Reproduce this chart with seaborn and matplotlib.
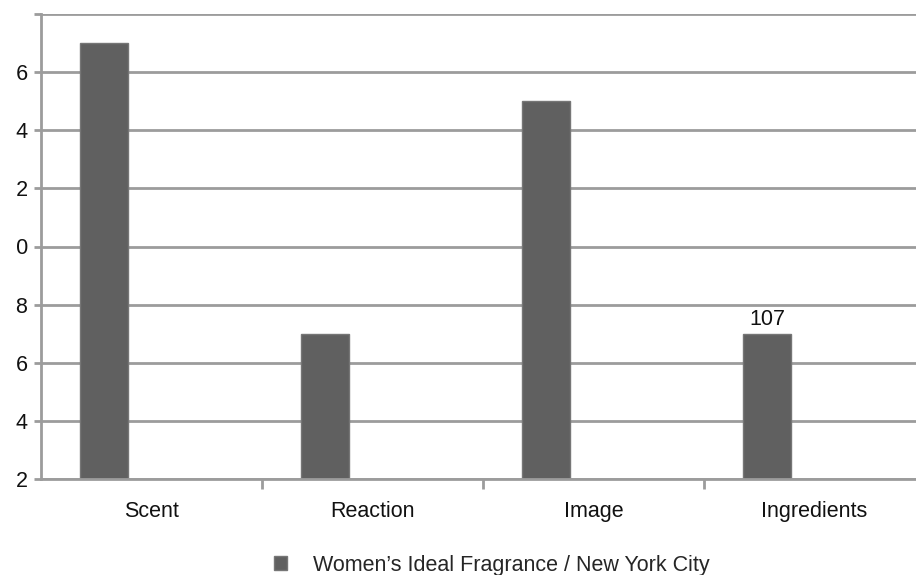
import seaborn as sns
import pandas as pd
import matplotlib.pyplot as plt
from matplotlib.ticker import FixedLocator
from matplotlib.transforms import Bbox, TransformedBbox

categories = ["Scent", "Reaction", "Image", "Ingredients"]
values = [117, 107, 115, 107]
series_name = "Women\u2019s Ideal Fragrance / New York City"
yticks = [102, 104, 106, 108, 110, 112, 114, 116, 118]
ytick_labels = ["102", "104", "106", "108", "110", "112", "114", "116", ""]

df = pd.DataFrame({"category": categories, "value": values, "series": series_name})

sns.set_theme(style="white")
plt.rcParams["font.family"] = ["Liberation Sans", "DejaVu Sans"]

fig = plt.figure(figsize=(9.16, 5.75), dpi=100)
ax = fig.add_axes([41 / 916, 96 / 575, 884 / 916, 465 / 575])

# second (empty) slot in each category, like the original clustered chart
sns.barplot(data=df, x="category", y="value", hue="series",
            hue_order=[series_name, "_empty"], order=categories,
            palette=["#606060", "#606060"], width=0.86, gap=0.495, dodge=True,
            edgecolor="#767676", linewidth=1, ax=ax, legend=False)

ax.set_ylim(102, 118)
ax.set_xlim(-0.5, 3.5)
ax.set_yticks(yticks)
ax.set_yticklabels(ytick_labels)
ax.yaxis.grid(True, color="#9c9c9c", linewidth=2)
ax.set_axisbelow(True)
ax.set_xlabel("")
ax.set_ylabel("")

for s in ["top", "right"]:
    ax.spines[s].set_visible(False)
for s in ["left", "bottom"]:
    ax.spines[s].set_color("#9c9c9c")
    ax.spines[s].set_linewidth(2)

fs = 15.5
ax.tick_params(axis="y", left=True, length=5, width=2, color="#9c9c9c",
               pad=4, labelsize=fs, labelcolor="#111111")
ax.tick_params(axis="x", which="major", length=0, pad=16, labelsize=fs,
               labelcolor="#111111")
ax.xaxis.set_minor_locator(FixedLocator([0.5, 1.5, 2.5]))
ax.tick_params(axis="x", which="minor", bottom=True, length=7, width=2,
               color="#9c9c9c")

# the source image is cropped on the left, cutting the y labels
clip = TransformedBbox(Bbox([[15.5 / 916, 0], [1, 1]]), fig.transFigure)
for lab in ax.get_yticklabels():
    lab.set_clip_box(clip)
    lab.set_clip_on(True)

# data label only on the last bar
bars = ax.containers[0]
ax.bar_label(bars, labels=["", "", "", str(values[3])], padding=3,
             fontsize=fs, color="#111111")

handles = [bars.patches[0]]
fig.legend(handles, [series_name], loc="center", bbox_to_anchor=(0.537, 0.017),
           frameon=False, fontsize=fs, handlelength=0.6, handleheight=0.6,
           handletextpad=1.2)

fig.savefig("out.png", dpi=100)
